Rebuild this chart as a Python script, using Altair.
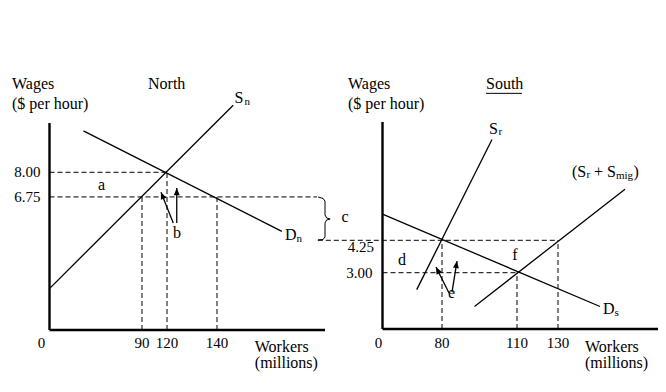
import altair as alt
import pandas as pd

FONT = "Liberation Serif"
INK = "#000000"

# ---------------- North panel values ----------------
north_x_domain = [0, 90, 120, 140, 180]
north_y_domain = [0, 10.5]
north_wages = [8.00, 6.75]
north_wage_labels = ["8.00", "6.75"]
north_workers = [90, 120, 140]
north_worker_labels = ["90", "120", "140"]
sn_x = [0, 146]
sn_y = [2.1, 11.4]
dn_x = [33, 164]
dn_y = [10.1, 5.0]
north_gap_end = 177
brace_x = [177.4, 179.3, 180, 180, 180.6, 181.9, 180.6, 180, 180, 179.3, 177.4]
brace_y = [6.75, 6.67, 6.54, 5.84, 5.68, 5.63, 5.58, 5.43, 4.72, 4.59, 4.57]
# arrows "b": (start x, start y, tip x, tip y)
north_arrows = [(122.5, 5.43, 112.8, 6.99), (123.9, 5.43, 123.9, 7.2)]

# ---------------- South panel values ----------------
south_x_domain = [0, 80, 110, 130, 180]
south_y_domain = [0, 3, 4.25, 9]
south_wages = [4.25, 3.00]
south_wage_labels = ["4.25", "3.00"]
south_workers = [80, 110, 130]
south_worker_labels = ["80", "110", "130"]
sr_x = [46, 100]
sr_y = [2.1, 8.3]
ds_x = [0, 151]
ds_y = [5.3, 1.2]
smig_x = [93, 163.5]
smig_y = [1.2, 6.3]
south_gap_start = -87
south_arrows = [(82.8, 1.92, 71.9, 3.22), (84, 1.97, 86, 3.45)]

xN = alt.Scale(domain=north_x_domain, range=[41.5, 134, 159, 209, 317], nice=False, zero=False)
yN = alt.Scale(domain=north_y_domain, range=[322, 115], nice=False, zero=False)
xS = alt.Scale(domain=south_x_domain, range=[374.5, 434, 509, 550, 650], nice=False, zero=False)
yS = alt.Scale(domain=south_y_domain, range=[321, 264.7, 232.3, 114], nice=False, zero=False)


def line(xs, ys, scx, scy, width=1.3, dash=None):
    df = pd.DataFrame({"x": xs, "y": ys, "o": list(range(len(xs)))})
    kw = dict(color=INK, strokeWidth=width)
    if dash:
        kw["strokeDash"] = dash
    return alt.Chart(df).mark_line(**kw).encode(
        x=alt.X("x:Q", scale=scx, axis=None),
        y=alt.Y("y:Q", scale=scy, axis=None),
        order="o:Q",
    )


def rules(rows, scx, scy, width=1.0, dash=None):
    df = pd.DataFrame(rows, columns=["x", "x2", "y", "y2"])
    kw = dict(color=INK, strokeWidth=width)
    if dash:
        kw["strokeDash"] = dash
    return alt.Chart(df).mark_rule(**kw).encode(
        x=alt.X("x:Q", scale=scx, axis=None),
        x2="x2:Q",
        y=alt.Y("y:Q", scale=scy, axis=None),
        y2="y2:Q",
    )


def text(x, y, s, scx, scy, size=16, align="left", baseline="alphabetic", dx=0, dy=0):
    df = pd.DataFrame({"x": [x], "y": [y], "t": [s]})
    return alt.Chart(df).mark_text(
        font=FONT, fontSize=size, align=align, baseline=baseline, dx=dx, dy=dy, color=INK
    ).encode(
        x=alt.X("x:Q", scale=scx, axis=None),
        y=alt.Y("y:Q", scale=scy, axis=None),
        text="t:N",
    )


def arrow(a, angle, scx, scy):
    x0, y0, x1, y1 = a
    shaft = rules([(x0, x1, y0, y1)], scx, scy, width=1.3)
    df = pd.DataFrame({"x": [x1], "y": [y1]})
    head = alt.Chart(df).mark_point(
        shape="M0,0L-0.42,1L0.42,1Z", size=200, filled=True, color=INK,
        opacity=1, angle=angle, strokeWidth=0,
    ).encode(
        x=alt.X("x:Q", scale=scx, axis=None),
        y=alt.Y("y:Q", scale=scy, axis=None),
    )
    return [shaft, head]


# ---------------- North layers ----------------
n = []
n.append(rules([(0, 0, 0, north_y_domain[1]), (0, north_x_domain[-1], 0, 0)], xN, yN, width=2.4))
n.append(rules([
    (0, north_workers[1], north_wages[0], north_wages[0]),
    (0, north_gap_end, north_wages[1], north_wages[1]),
    (north_workers[0], north_workers[0], 0, north_wages[1]),
    (north_workers[1], north_workers[1], 0, north_wages[0]),
    (north_workers[2], north_workers[2], 0, north_wages[1]),
], xN, yN, width=1.0, dash=[5, 3]))
n.append(line(sn_x, sn_y, xN, yN))
n.append(line(dn_x, dn_y, xN, yN))
n.append(line(brace_x, brace_y, xN, yN, width=1.0))
n += arrow(north_arrows[0], 338, xN, yN)
n += arrow(north_arrows[1], 0, xN, yN)
n.append(text(-36.5, 12.21, "Wages", xN, yN))
n.append(text(-36.5, 11.21, "($ per hour)", xN, yN))
n.append(text(97.2, 12.21, "North", xN, yN))
n.append(text(146.5, 11.5, "S", xN, yN))
n.append(text(146.5, 11.5, "n", xN, yN, size=11, dx=10, dy=2))
n.append(text(165.2, 4.57, "D", xN, yN))
n.append(text(165.2, 4.57, "n", xN, yN, size=11, dx=11.5, dy=2))
n.append(text(50.6, 7.10, "a", xN, yN, align="center"))
n.append(text(124, 4.65, "b", xN, yN, align="center"))
n.append(text(187.4, 5.48, "c", xN, yN, align="center"))
for v, s in zip(north_wages, north_wage_labels):
    n.append(text(0, v, s, xN, yN, size=15, align="right", baseline="middle", dx=-9))
n.append(text(0, 0, "0", xN, yN, size=15, align="center", dx=-8, dy=18))
for v, s in zip(north_workers, north_worker_labels):
    n.append(text(v, 0, s, xN, yN, size=15, align="center", dy=18))
n.append(text(154, 0, "Workers", xN, yN, dy=22))
n.append(text(154, 0, "(millions)", xN, yN, dy=38))

# ---------------- South layers ----------------
s = []
s.append(rules([(0, 0, 0, south_y_domain[-1]), (0, south_x_domain[-1], 0, 0)], xS, yS, width=2.4))
s.append(rules([
    (south_gap_start, south_workers[2], south_wages[0], south_wages[0]),
    (0, south_workers[1], south_wages[1], south_wages[1]),
    (south_workers[0], south_workers[0], 0, south_wages[0]),
    (south_workers[1], south_workers[1], 0, south_wages[1]),
    (south_workers[2], south_workers[2], 0, south_wages[0]),
], xS, yS, width=1.0, dash=[5, 3]))
s.append(line(sr_x, sr_y, xS, yS))
s.append(line(ds_x, ds_y, xS, yS))
s.append(line(smig_x, smig_y, xS, yS))
s += arrow(south_arrows[0], 333, xS, yS)
s += arrow(south_arrows[1], 9, xS, yS)
s.append(text(-46.4, 10.33, "Wages", xS, yS))
s.append(text(-46.4, 9.52, "($ per hour)", xS, yS))
s.append(text(97.6, 10.33, "South", xS, yS))
s.append(rules([(97.6, 112.4, 10.15, 10.15)], xS, yS, width=1.0))
s.append(text(98.8, 8.52, "S", xS, yS))
s.append(text(98.8, 8.52, "r", xS, yS, size=11, dx=9.5, dy=1))
s.append(text(137, 6.79, "(S", xS, yS))
s.append(text(137, 6.79, "r", xS, yS, size=11, dx=14.5, dy=1))
s.append(text(137, 6.79, "+", xS, yS, dx=22))
s.append(text(137, 6.79, "S", xS, yS, dx=35))
s.append(text(137, 6.79, "mig", xS, yS, size=11, dx=44, dy=2))
s.append(text(137, 6.79, ")", xS, yS, dx=61.5))
s.append(text(152.5, 0.80, "D", xS, yS))
s.append(text(152.5, 0.80, "s", xS, yS, size=11, dx=11.5, dy=2))
s.append(text(26.2, 3.30, "d", xS, yS, align="center"))
s.append(text(109.2, 3.49, "f", xS, yS, align="center"))
s.append(text(83.8, 1.65, "e", xS, yS, align="center"))
s.append(text(0, south_wages[0], south_wage_labels[0], xS, yS, size=15, align="right", baseline="middle", dx=-8.5, dy=7))
s.append(text(0, south_wages[1], south_wage_labels[1], xS, yS, size=15, align="right", baseline="middle", dx=-10))
s.append(text(0, 0, "0", xS, yS, size=15, align="center", dx=-4, dy=19))
for v, lab in zip(south_workers, south_worker_labels):
    s.append(text(v, 0, lab, xS, yS, size=15, align="center", dy=19))
s.append(text(143.5, 0, "Workers", xS, yS, dy=23))
s.append(text(143.5, 0, "(millions)", xS, yS, dy=39))

north = alt.layer(*n)
south = alt.layer(*s)

chart = alt.layer(north, south).resolve_scale(
    x="independent", y="independent"
).properties(
    width=650, height=370, autosize=alt.AutoSizeParams(type="none"), padding=0,
    background="white",
).configure_view(stroke=None)

chart.save("out.html", embed_options={"renderer": "svg", "actions": False})
